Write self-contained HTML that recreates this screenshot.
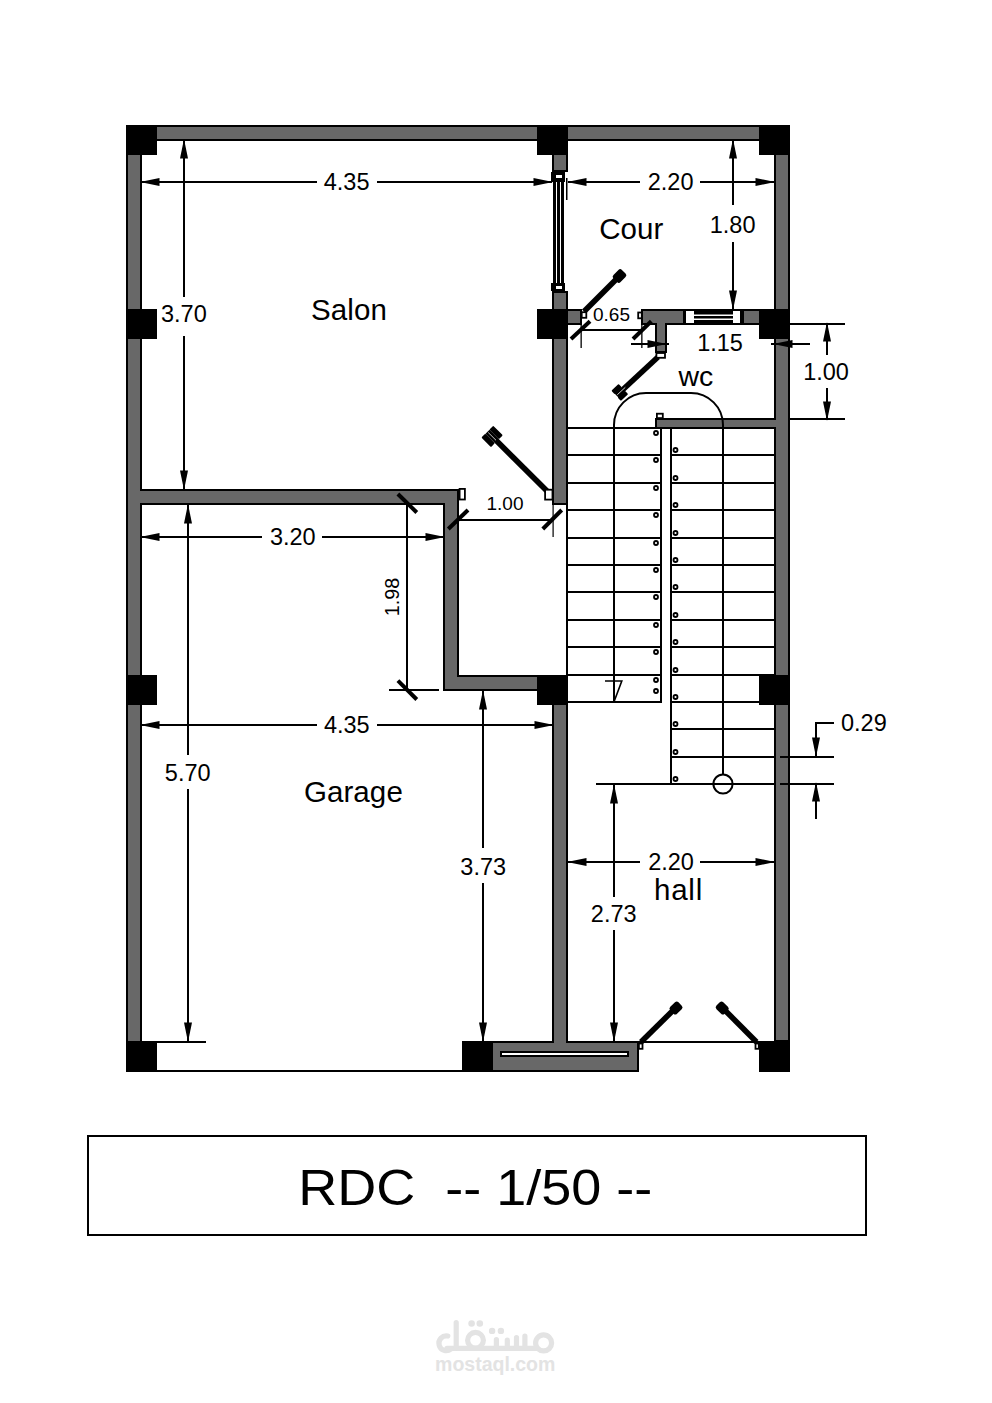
<!DOCTYPE html>
<html><head><meta charset="utf-8"><title>RDC</title>
<style>html,body{margin:0;padding:0;background:#fff;}svg{display:block;}text{font-family:"Liberation Sans",sans-serif;}</style>
</head><body>
<svg width="992" height="1403" viewBox="0 0 992 1403">
<rect x="0" y="0" width="992" height="1403" fill="#fff"/>
<rect x="127" y="126" width="662" height="14" fill="none" stroke="#000" stroke-width="2"/>
<rect x="127" y="126" width="14" height="945" fill="none" stroke="#000" stroke-width="2"/>
<rect x="775" y="126" width="14" height="915" fill="none" stroke="#000" stroke-width="2"/>
<rect x="553" y="126" width="14" height="45" fill="none" stroke="#000" stroke-width="2"/>
<rect x="553" y="292" width="14" height="212" fill="none" stroke="#000" stroke-width="2"/>
<rect x="135" y="490" width="323" height="14" fill="none" stroke="#000" stroke-width="2"/>
<rect x="444" y="490" width="14" height="200" fill="none" stroke="#000" stroke-width="2"/>
<rect x="444" y="676" width="108" height="14" fill="none" stroke="#000" stroke-width="2"/>
<rect x="553" y="676" width="14" height="383" fill="none" stroke="#000" stroke-width="2"/>
<rect x="492" y="1042" width="146" height="29" fill="none" stroke="#000" stroke-width="2"/>
<rect x="553" y="310" width="28" height="14" fill="none" stroke="#000" stroke-width="2"/>
<rect x="642" y="310" width="42" height="14" fill="none" stroke="#000" stroke-width="2"/>
<rect x="743" y="310" width="31" height="14" fill="none" stroke="#000" stroke-width="2"/>
<rect x="656" y="310" width="10" height="42" fill="none" stroke="#000" stroke-width="2"/>
<rect x="656" y="419" width="128" height="9" fill="none" stroke="#000" stroke-width="2"/>
<rect x="128" y="127" width="660" height="12" fill="#686868"/>
<rect x="128" y="127" width="12" height="943" fill="#686868"/>
<rect x="776" y="127" width="12" height="913" fill="#686868"/>
<rect x="554" y="127" width="12" height="43" fill="#686868"/>
<rect x="554" y="293" width="12" height="210" fill="#686868"/>
<rect x="136" y="491" width="321" height="12" fill="#686868"/>
<rect x="445" y="491" width="12" height="198" fill="#686868"/>
<rect x="445" y="677" width="106" height="12" fill="#686868"/>
<rect x="554" y="677" width="12" height="381" fill="#686868"/>
<rect x="493" y="1043" width="144" height="27" fill="#686868"/>
<rect x="554" y="311" width="26" height="12" fill="#686868"/>
<rect x="643" y="311" width="40" height="12" fill="#686868"/>
<rect x="744" y="311" width="29" height="12" fill="#686868"/>
<rect x="657" y="311" width="8" height="40" fill="#686868"/>
<rect x="657" y="420" width="126" height="7" fill="#686868"/>
<rect x="126" y="125" width="31" height="30" fill="#000"/>
<rect x="537" y="125" width="31" height="30" fill="#000"/>
<rect x="759" y="125" width="31" height="30" fill="#000"/>
<rect x="126" y="309" width="31" height="30" fill="#000"/>
<rect x="537" y="309" width="31" height="30" fill="#000"/>
<rect x="759" y="309" width="31" height="30" fill="#000"/>
<rect x="126" y="675" width="31" height="30" fill="#000"/>
<rect x="537" y="675" width="31" height="30" fill="#000"/>
<rect x="759" y="675" width="31" height="30" fill="#000"/>
<rect x="126" y="1041" width="31" height="31" fill="#000"/>
<rect x="462" y="1041" width="30" height="31" fill="#000"/>
<rect x="759" y="1041" width="31" height="31" fill="#000"/>
<rect x="551" y="172" width="14" height="10" fill="#000"/>
<rect x="556" y="175" width="6" height="3" fill="#fff"/>
<rect x="551" y="283" width="14" height="8" fill="#000"/>
<rect x="556" y="286" width="6" height="3" fill="#fff"/>
<rect x="553" y="182" width="11" height="101" fill="#000"/>
<rect x="556" y="182" width="1" height="101" fill="#fff"/>
<rect x="560" y="182" width="1" height="101" fill="#fff"/>
<rect x="566" y="178" width="1.5" height="22" fill="#000"/>
<rect x="684" y="309" width="59" height="16" fill="#000"/>
<rect x="686" y="311" width="8" height="12" fill="#fff"/>
<rect x="733" y="311" width="7" height="12" fill="#fff"/>
<rect x="694" y="314.5" width="39" height="1.5" fill="#fff"/>
<rect x="694" y="318.5" width="39" height="1.5" fill="#fff"/>
<rect x="500" y="1051" width="129" height="6" fill="#000"/>
<rect x="502" y="1053" width="125" height="2" fill="#fff"/>
<rect x="157" y="1070" width="305" height="2" fill="#000"/>
<rect x="639" y="1041" width="120" height="2" fill="#000"/>
<rect x="142" y="181" width="175" height="2" fill="#000"/>
<rect x="377" y="181" width="175" height="2" fill="#000"/>
<polygon points="140,182 159.5,178 159.5,186" fill="#000"/>
<polygon points="553,182 533.5,178 533.5,186" fill="#000"/>
<rect x="568" y="181" width="72" height="2" fill="#000"/>
<rect x="700" y="181" width="74" height="2" fill="#000"/>
<polygon points="567,182 586.5,178 586.5,186" fill="#000"/>
<polygon points="775,182 755.5,178 755.5,186" fill="#000"/>
<rect x="732" y="141" width="2" height="64" fill="#000"/>
<rect x="732" y="242" width="2" height="67" fill="#000"/>
<polygon points="733,139 729,158.5 737,158.5" fill="#000"/>
<polygon points="733,310 729,290.5 737,290.5" fill="#000"/>
<rect x="183" y="141" width="2" height="156" fill="#000"/>
<rect x="183" y="336" width="2" height="153" fill="#000"/>
<polygon points="184,139 180,158.5 188,158.5" fill="#000"/>
<polygon points="184,490 180,470.5 188,470.5" fill="#000"/>
<rect x="187" y="505" width="2" height="250" fill="#000"/>
<rect x="187" y="789" width="2" height="252" fill="#000"/>
<polygon points="188,504 184,523.5 192,523.5" fill="#000"/>
<polygon points="188,1042 184,1022.5 192,1022.5" fill="#000"/>
<rect x="157" y="1041" width="49" height="2" fill="#000"/>
<rect x="142" y="536" width="120" height="2" fill="#000"/>
<rect x="322" y="536" width="121" height="2" fill="#000"/>
<polygon points="140,537 159.5,533 159.5,541" fill="#000"/>
<polygon points="445,537 425.5,533 425.5,541" fill="#000"/>
<rect x="142" y="724" width="175" height="2" fill="#000"/>
<rect x="377" y="724" width="175" height="2" fill="#000"/>
<polygon points="140,725 159.5,721 159.5,729" fill="#000"/>
<polygon points="554,725 534.5,721 534.5,729" fill="#000"/>
<rect x="482" y="691" width="2" height="157" fill="#000"/>
<rect x="482" y="883" width="2" height="158" fill="#000"/>
<polygon points="483,690 479,709.5 487,709.5" fill="#000"/>
<polygon points="483,1042 479,1022.5 487,1022.5" fill="#000"/>
<rect x="568" y="861" width="72" height="2" fill="#000"/>
<rect x="700" y="861" width="74" height="2" fill="#000"/>
<polygon points="567,862 586.5,858 586.5,866" fill="#000"/>
<polygon points="775,862 755.5,858 755.5,866" fill="#000"/>
<rect x="613" y="784" width="2" height="113" fill="#000"/>
<rect x="613" y="930" width="2" height="111" fill="#000"/>
<polygon points="614,784 610,803.5 618,803.5" fill="#000"/>
<polygon points="614,1042 610,1022.5 618,1022.5" fill="#000"/>
<rect x="790" y="323" width="55" height="2" fill="#000"/>
<rect x="790" y="418" width="55" height="2" fill="#000"/>
<rect x="826" y="324" width="2" height="31" fill="#000"/>
<rect x="826" y="388" width="2" height="31" fill="#000"/>
<polygon points="827,322 823,341.5 831,341.5" fill="#000"/>
<polygon points="827,421 823,401.5 831,401.5" fill="#000"/>
<rect x="631" y="343" width="38" height="2" fill="#000"/>
<rect x="771" y="343" width="39" height="2" fill="#000"/>
<polygon points="667,344 647.5,340 647.5,348" fill="#000"/>
<polygon points="773,344 792.5,340 792.5,348" fill="#000"/>
<rect x="780" y="756" width="54" height="2" fill="#000"/>
<rect x="780" y="783" width="54" height="2" fill="#000"/>
<rect x="815" y="722" width="19" height="2" fill="#000"/>
<rect x="815" y="722" width="2" height="35" fill="#000"/>
<polygon points="816,757 812,737.5 820,737.5" fill="#000"/>
<rect x="815" y="784" width="2" height="35" fill="#000"/>
<polygon points="816,782 812,801.5 820,801.5" fill="#000"/>
<rect x="596" y="783" width="178" height="2" fill="#000"/>
<rect x="459" y="519" width="94" height="2" fill="#000"/>
<line x1="448.3" y1="529" x2="468" y2="510" stroke="#000" stroke-width="4" stroke-linecap="butt"/>
<line x1="542.8" y1="529" x2="561.7" y2="510" stroke="#000" stroke-width="4" stroke-linecap="butt"/>
<rect x="552.5" y="505" width="1.2" height="32" fill="#000"/>
<rect x="406" y="505" width="2" height="185" fill="#000"/>
<rect x="389" y="689" width="50" height="2" fill="#000"/>
<line x1="397.9" y1="494" x2="416.8" y2="512.5" stroke="#000" stroke-width="4" stroke-linecap="butt"/>
<line x1="397.9" y1="680.6" x2="416.8" y2="699.5" stroke="#000" stroke-width="4" stroke-linecap="butt"/>
<rect x="581" y="329" width="60" height="2" fill="#000"/>
<line x1="571" y1="339" x2="590" y2="321.3" stroke="#000" stroke-width="4" stroke-linecap="butt"/>
<line x1="633" y1="339" x2="651.3" y2="321.3" stroke="#000" stroke-width="4" stroke-linecap="butt"/>
<rect x="580.5" y="325" width="1.3" height="23" fill="#000"/>
<rect x="641.2" y="325" width="1.3" height="23" fill="#000"/>
<rect x="568" y="427" width="94" height="2" fill="#000"/>
<rect x="568" y="454" width="94" height="2" fill="#000"/>
<rect x="568" y="482" width="94" height="2" fill="#000"/>
<rect x="568" y="509" width="94" height="2" fill="#000"/>
<rect x="568" y="537" width="94" height="2" fill="#000"/>
<rect x="568" y="564" width="94" height="2" fill="#000"/>
<rect x="568" y="591" width="94" height="2" fill="#000"/>
<rect x="568" y="619" width="94" height="2" fill="#000"/>
<rect x="568" y="646" width="94" height="2" fill="#000"/>
<rect x="568" y="674" width="94" height="2" fill="#000"/>
<rect x="568" y="701" width="94" height="2" fill="#000"/>
<rect x="670" y="427" width="104" height="2" fill="#000"/>
<rect x="670" y="454" width="104" height="2" fill="#000"/>
<rect x="670" y="482" width="104" height="2" fill="#000"/>
<rect x="670" y="509" width="104" height="2" fill="#000"/>
<rect x="670" y="537" width="104" height="2" fill="#000"/>
<rect x="670" y="564" width="104" height="2" fill="#000"/>
<rect x="670" y="591" width="104" height="2" fill="#000"/>
<rect x="670" y="619" width="104" height="2" fill="#000"/>
<rect x="670" y="646" width="104" height="2" fill="#000"/>
<rect x="670" y="674" width="104" height="2" fill="#000"/>
<rect x="670" y="701" width="104" height="2" fill="#000"/>
<rect x="670" y="728" width="104" height="2" fill="#000"/>
<rect x="670" y="756" width="104" height="2" fill="#000"/>
<rect x="670" y="783" width="104" height="2" fill="#000"/>
<rect x="566" y="505" width="2" height="171" fill="#000"/>
<rect x="660" y="427" width="2" height="276" fill="#000"/>
<rect x="670" y="427" width="2" height="358" fill="#000"/>
<rect x="613" y="425" width="2" height="278" fill="#000"/>
<rect x="722" y="425" width="2" height="350" fill="#000"/>
<path d="M614,426 L614,425 A32,32 0 0 1 646,393 L691,393 A32,32 0 0 1 723,425 L723,426" fill="none" stroke="#000" stroke-width="2"/>
<circle cx="723" cy="784" r="9.6" fill="none" stroke="#000" stroke-width="2"/>
<circle cx="656" cy="433" r="2.0" fill="none" stroke="#000" stroke-width="1.8"/>
<circle cx="656" cy="460" r="2.0" fill="none" stroke="#000" stroke-width="1.8"/>
<circle cx="656" cy="488" r="2.0" fill="none" stroke="#000" stroke-width="1.8"/>
<circle cx="656" cy="515" r="2.0" fill="none" stroke="#000" stroke-width="1.8"/>
<circle cx="656" cy="543" r="2.0" fill="none" stroke="#000" stroke-width="1.8"/>
<circle cx="656" cy="570" r="2.0" fill="none" stroke="#000" stroke-width="1.8"/>
<circle cx="656" cy="597" r="2.0" fill="none" stroke="#000" stroke-width="1.8"/>
<circle cx="656" cy="625" r="2.0" fill="none" stroke="#000" stroke-width="1.8"/>
<circle cx="656" cy="652" r="2.0" fill="none" stroke="#000" stroke-width="1.8"/>
<circle cx="656" cy="680" r="2.0" fill="none" stroke="#000" stroke-width="1.8"/>
<circle cx="656" cy="691" r="2.0" fill="none" stroke="#000" stroke-width="1.8"/>
<circle cx="675.5" cy="450" r="2.0" fill="none" stroke="#000" stroke-width="1.8"/>
<circle cx="675.5" cy="478" r="2.0" fill="none" stroke="#000" stroke-width="1.8"/>
<circle cx="675.5" cy="505" r="2.0" fill="none" stroke="#000" stroke-width="1.8"/>
<circle cx="675.5" cy="533" r="2.0" fill="none" stroke="#000" stroke-width="1.8"/>
<circle cx="675.5" cy="560" r="2.0" fill="none" stroke="#000" stroke-width="1.8"/>
<circle cx="675.5" cy="587" r="2.0" fill="none" stroke="#000" stroke-width="1.8"/>
<circle cx="675.5" cy="615" r="2.0" fill="none" stroke="#000" stroke-width="1.8"/>
<circle cx="675.5" cy="642" r="2.0" fill="none" stroke="#000" stroke-width="1.8"/>
<circle cx="675.5" cy="670" r="2.0" fill="none" stroke="#000" stroke-width="1.8"/>
<circle cx="675.5" cy="697" r="2.0" fill="none" stroke="#000" stroke-width="1.8"/>
<circle cx="675.5" cy="724" r="2.0" fill="none" stroke="#000" stroke-width="1.8"/>
<circle cx="675.5" cy="752" r="2.0" fill="none" stroke="#000" stroke-width="1.8"/>
<circle cx="675.5" cy="779" r="2.0" fill="none" stroke="#000" stroke-width="1.8"/>
<polyline points="605,681 621.8,681 614.3,701" fill="none" stroke="#000" stroke-width="1.6"/>
<line x1="549" y1="493" x2="487.5" y2="431.8" stroke="#000" stroke-width="5.6" stroke-linecap="butt"/>
<rect x="-6.75" y="-2.8" width="13.5" height="5.6" rx="1" fill="#000" transform="translate(496.06,432.42) rotate(-135.14)"/>
<rect x="-6.75" y="-2.8" width="13.5" height="5.6" rx="1" fill="#000" transform="translate(488.16,440.35) rotate(-135.14)"/>
<line x1="488.21" y1="432.51" x2="496.01" y2="440.26" stroke="#fff" stroke-width="0.8"/>
<rect x="545.1" y="489.7" width="7.4" height="9.9" fill="#fff" stroke="#000" stroke-width="1.8"/>
<rect x="459.6" y="488.9" width="5.3" height="10.6" fill="#fff" stroke="#000" stroke-width="1.8"/>
<line x1="584" y1="311.5" x2="618.5" y2="277" stroke="#000" stroke-width="5.6" stroke-linecap="butt"/>
<rect x="-6" y="-5.04" width="12" height="10.08" rx="2.5" fill="#000" transform="translate(619.5,276) rotate(-45)"/>
<rect x="581.7" y="312.2" width="4.6" height="5.6" fill="#fff" stroke="#000" stroke-width="1.8"/>
<line x1="658" y1="357" x2="616.5" y2="395.5" stroke="#000" stroke-width="5.6" stroke-linecap="butt"/>
<rect x="-5" y="-2.4" width="10" height="4.8" rx="1" fill="#000" transform="translate(616.67,389.07) rotate(137.15)"/>
<rect x="-5" y="-2.4" width="10" height="4.8" rx="1" fill="#000" transform="translate(622.93,395.81) rotate(137.15)"/>
<line x1="617.23" y1="394.82" x2="625.3" y2="387.34" stroke="#fff" stroke-width="0.8"/>
<rect x="656.4" y="353" width="8.6" height="4.8" fill="#fff" stroke="#000" stroke-width="1.8"/>
<rect x="656.9" y="413.7" width="5.9" height="4.4" fill="#fff" stroke="#000" stroke-width="1.8"/>
<rect x="638.2" y="312.5" width="3.6" height="5.8" fill="#fff" stroke="#000" stroke-width="1.8"/>
<line x1="641" y1="1042" x2="675.5" y2="1008" stroke="#000" stroke-width="5.6" stroke-linecap="butt"/>
<rect x="-5.75" y="-4.83" width="11.5" height="9.66" rx="2.5" fill="#000" transform="translate(676,1008) rotate(-44.17)"/>
<line x1="756.5" y1="1042" x2="722.7" y2="1008" stroke="#000" stroke-width="5.6" stroke-linecap="butt"/>
<rect x="-5.75" y="-4.83" width="11.5" height="9.66" rx="2.5" fill="#000" transform="translate(722.2,1008) rotate(-135.25)"/>
<rect x="638.9" y="1043.5" width="3.6" height="5.3" fill="#fff" stroke="#000" stroke-width="1.8"/>
<rect x="755.5" y="1043.5" width="3.3" height="5.3" fill="#fff" stroke="#000" stroke-width="1.8"/>
<g fill="none" stroke="#e3e3e3" stroke-width="5.2" stroke-linecap="round">
<path d="M456.2,1322.5 L456.2,1348.3 L536,1348.3"/>
<path d="M456.2,1348.3 L447,1348.3"/>
<path d="M447.8,1336 A7.4,7.4 0 1 0 451,1349"/>
<circle cx="475.5" cy="1340.3" r="7.9"/>
<circle cx="543.6" cy="1342.9" r="8"/>
<path d="M496.4,1339.5 L496.4,1348 M507.3,1340 L507.3,1348 M516.5,1337.5 L516.5,1348 M524.9,1336 L524.9,1348"/>
</g>
<g fill="#e3e3e3"><circle cx="471.6" cy="1323.5" r="3.3"/><circle cx="479.8" cy="1323.5" r="3.3"/><circle cx="492.1" cy="1330.9" r="3.2"/><circle cx="500.9" cy="1330.9" r="3.2"/></g>
<text x="495.2" y="1371.3" font-size="19.5" font-weight="bold" text-anchor="middle" fill="#e3e3e3" font-family="Liberation Sans, sans-serif">mostaql.com</text>
<g font-family="Liberation Sans, sans-serif" fill="#000">
<text x="349" y="319.7" font-size="29.5" text-anchor="middle" letter-spacing="0.1">Salon</text>
<text x="631.3" y="239" font-size="29.5" text-anchor="middle" letter-spacing="0.1">Cour</text>
<text x="353.4" y="802.1" font-size="29.5" text-anchor="middle" letter-spacing="0.1">Garage</text>
<text x="678.5" y="899.8" font-size="29.5" text-anchor="middle" letter-spacing="0.8">hall</text>
<text x="695.8" y="385.5" font-size="28.5" text-anchor="middle" >wc</text>
<text x="346.6" y="189.6" font-size="23.5" text-anchor="middle" >4.35</text>
<text x="670.6" y="189.8" font-size="23.5" text-anchor="middle" >2.20</text>
<text x="732.6" y="233.4" font-size="23.5" text-anchor="middle" >1.80</text>
<text x="183.9" y="321.8" font-size="23.5" text-anchor="middle" >3.70</text>
<text x="187.7" y="781" font-size="23.5" text-anchor="middle" >5.70</text>
<text x="292.8" y="544.6" font-size="23.5" text-anchor="middle" >3.20</text>
<text x="346.8" y="732.8" font-size="23.5" text-anchor="middle" >4.35</text>
<text x="483.2" y="875.2" font-size="23.5" text-anchor="middle" >3.73</text>
<text x="671" y="869.5" font-size="23.5" text-anchor="middle" >2.20</text>
<text x="613.7" y="921.5" font-size="23.5" text-anchor="middle" >2.73</text>
<text x="826" y="379.7" font-size="23.5" text-anchor="middle" >1.00</text>
<text x="720" y="351" font-size="23.5" text-anchor="middle" >1.15</text>
<text x="505" y="510" font-size="19" text-anchor="middle" >1.00</text>
<text x="611.5" y="321.3" font-size="19" text-anchor="middle" >0.65</text>
<text x="841" y="731" font-size="23.5" text-anchor="start" >0.29</text>
<text x="0" y="0" font-size="19.8" text-anchor="middle" transform="translate(398.7,597) rotate(-90)">1.98</text>
</g>
<rect x="88" y="1136" width="778" height="99" fill="none" stroke="#000" stroke-width="2"/>
<text x="298.2" y="1204.5" font-size="50" textLength="354" lengthAdjust="spacingAndGlyphs" font-family="Liberation Sans, sans-serif">RDC&#160;&#160;-- 1/50 --</text>
</svg>
</body></html>
